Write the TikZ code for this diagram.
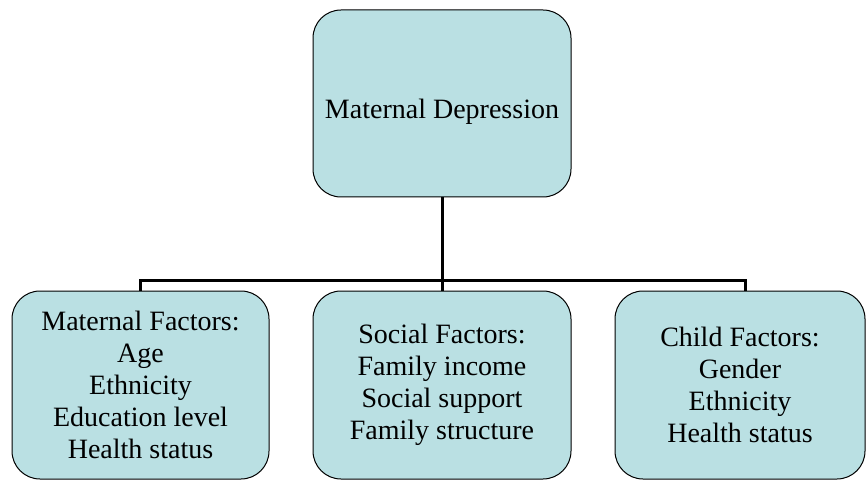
\documentclass[tikz,border=0pt]{standalone}
\usepackage{fontspec}
\setmainfont{Liberation Serif}
\definecolor{boxfill}{RGB}{186,224,227}
\begin{document}
\begin{tikzpicture}[x=1pt,y=-1pt,
  factorbox/.style={draw=black,line width=1pt,fill=boxfill,rounded corners=28pt,
    align=center,inner sep=0pt,font=\fontsize{28}{32}\selectfont,
    execute at begin node={\rule{0pt}{35pt}}},
  conn/.style={draw=black,line width=3pt}]
\useasboundingbox (0,0) rectangle (867,481);
\node[factorbox,minimum width=258pt,minimum height=187pt] (T) at (442,103.5) {Maternal Depression};
\node[factorbox,minimum width=257pt,minimum height=188pt] (L) at (140.5,385) {Maternal Factors:\\Age\\Ethnicity\\Education level\\Health status};
\node[factorbox,minimum width=258pt,minimum height=188pt] (M) at (442,385) {Social Factors:\\Family income\\Social support\\Family structure};
\node[factorbox,minimum width=250pt,minimum height=188pt] (R) at (740,385) {Child Factors:\\Gender\\Ethnicity\\Health status};
\coordinate (rb) at (745,280);
\draw[conn] (T.south) -- (M.north);
\draw[conn] (L.north) |- (rb) -- (rb |- R.north);
\end{tikzpicture}
\end{document}
